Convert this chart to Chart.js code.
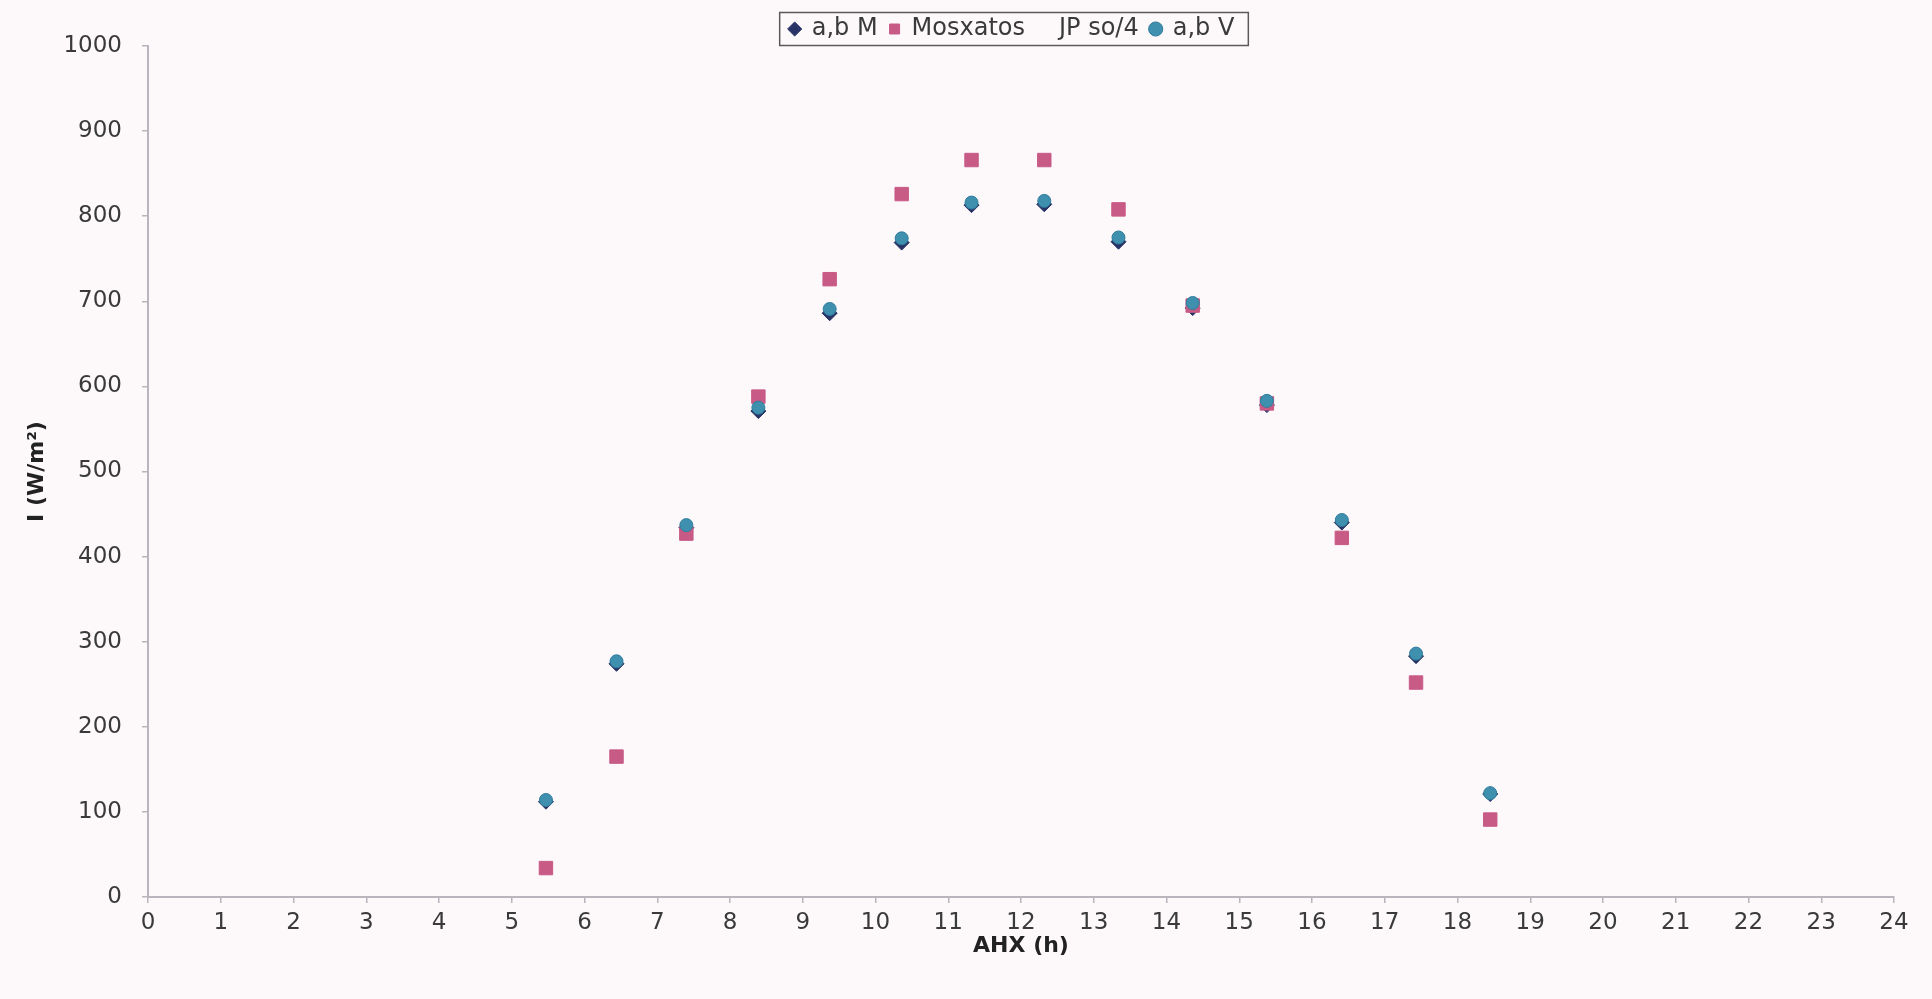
<!DOCTYPE html>
<html>
<head>
<meta charset="utf-8">
<title>I (W/m²) – AHX (h)</title>
<script src="https://cdn.jsdelivr.net/npm/chart.js@4.4.1/dist/chart.umd.min.js"></script>
<style>
  html, body { margin: 0; padding: 0; background: #fdf9fb; overflow: hidden; }
  canvas { display: block; }
</style>
</head>
<body>
<canvas id="chart" width="1932" height="999"></canvas>
<script>
// Solar time of each measurement (h)
const hours = [5.47, 6.44, 7.40, 8.39, 9.37, 10.36, 11.32, 12.32, 13.34, 14.36, 15.38, 16.41, 17.43, 18.45];

// Irradiance series (W/m²)
const abM      = [112, 274, 434, 571, 686, 769, 813, 814, 770, 692, 578, 440, 283, 121];
const mosxatos = [34, 165, 427, 588, 726, 826, 866, 866, 808, 695, 580, 422, 252, 91];
const jpSo4    = [];
const abV      = [114, 277, 437, 575, 691, 774, 816, 818, 775, 698, 583, 443, 286, 122];

// Axis ticks
const xTickValues = [0, 1, 2, 3, 4, 5, 6, 7, 8, 9, 10, 11, 12, 13, 14, 15, 16, 17, 18, 19, 20, 21, 22, 23, 24];
const yTickValues = [0, 100, 200, 300, 400, 500, 600, 700, 800, 900, 1000];

const pts = ys => ys.map((y, i) => ({ x: hours[i], y }));

const AXIS = '#bab4bd';
const TEXT = '#3a3a3a';
const FONT = "'DejaVu Sans', sans-serif";

// Paints the page tint behind the chart
const backdrop = {
  id: 'backdrop',
  beforeDraw(chart) {
    const { ctx, width, height } = chart;
    ctx.save();
    ctx.fillStyle = '#fdf9fb';
    ctx.fillRect(0, 0, width, height);
    ctx.restore();
  }
};

// Legend sits over the top of the plot area, inside a thin frame
const legendFrame = {
  id: 'legendFrame',
  afterLayout(chart) {
    const lg = chart.legend;
    if (!lg) return;
    const lo = lg.options.labels;
    const fs = lo.font.size;
    const dy = 29 - (lg.top + lo.padding + fs / 2);
    const dx = 1012 - (lg.left + lg.right) / 2;
    lg.top += dy; lg.bottom += dy;
    lg.left += dx; lg.right += dx;
  },
  afterDraw(chart) {
    const lg = chart.legend;
    if (!lg || !lg.legendHitBoxes || !lg.legendHitBoxes.length) return;
    const boxes = lg.legendHitBoxes;
    const l = Math.min(...boxes.map(b => b.left)) - 10;
    const r = Math.max(...boxes.map(b => b.left + b.width)) + 14;
    const { ctx } = chart;
    ctx.save();
    ctx.strokeStyle = '#5a5a5a';
    ctx.lineWidth = 1.5;
    ctx.strokeRect(l, 12.5, r - l, 33);
    ctx.restore();
  }
};

new Chart(document.getElementById('chart'), {
  type: 'scatter',
  data: {
    datasets: [
      {
        label: 'a,b M', data: pts(abM), order: 4,
        pointStyle: 'rectRot', pointRadius: 7.5, pointHoverRadius: 7.5,
        backgroundColor: '#283366', borderColor: '#283366', borderWidth: 1
      },
      {
        label: 'Mosxatos', data: pts(mosxatos), order: 3,
        pointStyle: 'rect', pointRadius: 9.5, pointHoverRadius: 9.5,
        backgroundColor: '#c85a86', borderColor: '#c85a86', borderWidth: 1
      },
      {
        label: 'JP so/4', data: jpSo4, order: 2,
        pointStyle: 'triangle', pointRadius: 6,
        backgroundColor: 'rgba(0,0,0,0)', borderColor: 'rgba(0,0,0,0)', borderWidth: 0
      },
      {
        label: 'a,b V', data: pts(abV), order: 1,
        pointStyle: 'circle', pointRadius: 6.5, pointHoverRadius: 6.5,
        backgroundColor: '#3f8fae', borderColor: '#307d9c', borderWidth: 1
      }
    ]
  },
  options: {
    responsive: false,
    animation: false,
    devicePixelRatio: 1,
    layout: { padding: { left: 20, right: 38, top: 0, bottom: 0 } },
    plugins: {
      tooltip: { enabled: false },
      legend: {
        position: 'top',
        labels: {
          usePointStyle: true,
          boxWidth: 10,
          boxHeight: 10,
          padding: 12,
          color: TEXT,
          font: { family: FONT, size: 24 },
          sort: (a, b) => a.datasetIndex - b.datasetIndex
        }
      }
    },
    scales: {
      x: {
        type: 'linear',
        min: 0, max: 24,
        afterBuildTicks: s => { s.ticks = xTickValues.map(v => ({ value: v })); },
        afterFit: s => { s.height = 102; },
        border: { display: true, color: AXIS, width: 2 },
        grid: { drawOnChartArea: false, drawTicks: true, tickLength: 6, color: AXIS, lineWidth: 1.5 },
        ticks: {
          color: TEXT, padding: 6, maxRotation: 0, autoSkip: false,
          font: { family: FONT, size: 23 },
          callback: v => String(v)
        },
        title: {
          display: true, text: 'AHX (h)', color: '#222',
          font: { family: FONT, size: 22, weight: 'bold' },
          padding: { top: 0, bottom: 40 }
        }
      },
      y: {
        type: 'linear',
        min: 0, max: 1000,
        afterBuildTicks: s => { s.ticks = yTickValues.map(v => ({ value: v })); },
        afterFit: s => { s.width = 128; },
        border: { display: true, color: AXIS, width: 2 },
        grid: { drawOnChartArea: false, drawTicks: true, tickLength: 6, color: AXIS, lineWidth: 1.5 },
        ticks: {
          color: TEXT, padding: 20,
          font: { family: FONT, size: 23 },
          callback: v => String(v)
        },
        title: {
          display: true, text: 'I (W/m²)', color: '#222',
          font: { family: FONT, size: 22, weight: 'bold' },
          padding: { top: 4, bottom: 0 }
        }
      }
    }
  },
  plugins: [backdrop, legendFrame]
});
</script>
</body>
</html>
